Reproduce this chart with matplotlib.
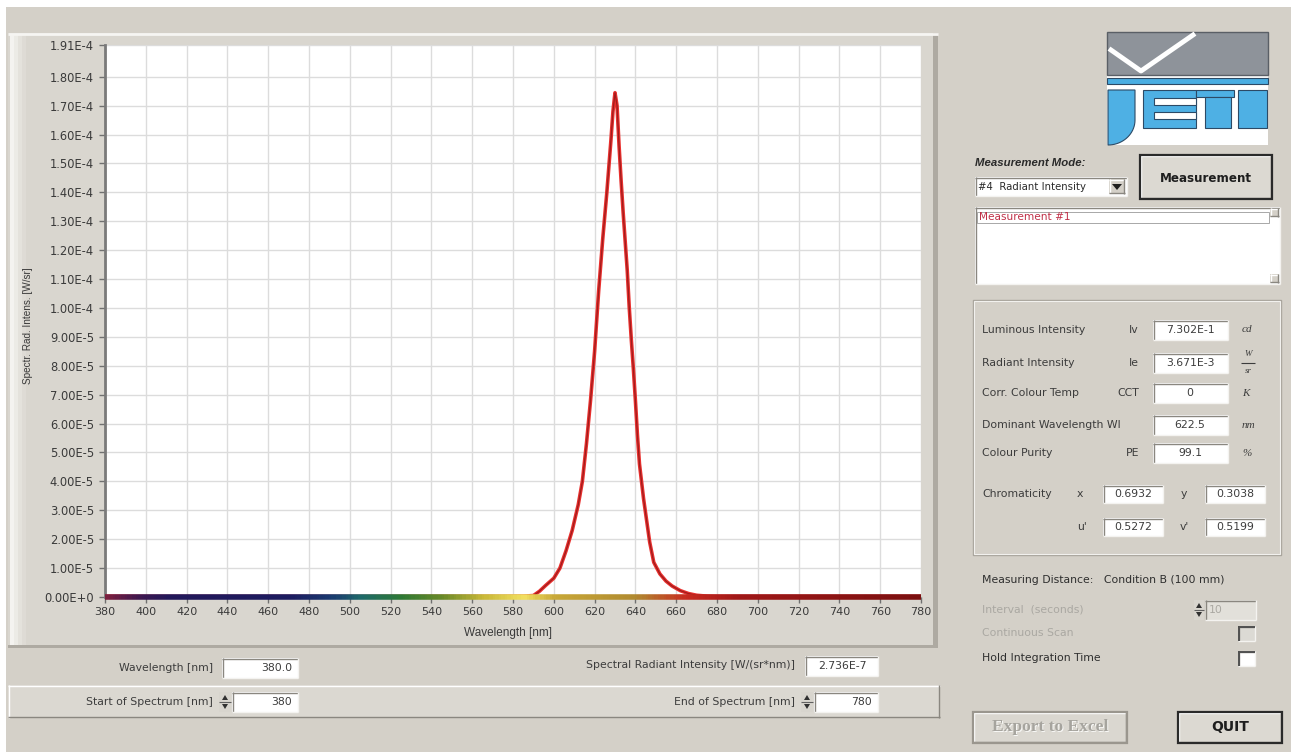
import numpy as np
import matplotlib
matplotlib.use('Agg')
import matplotlib.pyplot as plt
from matplotlib.patches import Rectangle, Polygon
from matplotlib.collections import LineCollection
from matplotlib.colors import LinearSegmentedColormap

# ---------------- data ----------------
wavelength_nm = [380, 400, 420, 440, 460, 480, 500, 520, 540, 560, 575, 585, 590, 593, 596,
                 600, 603, 606, 609, 612, 614, 616, 618, 620, 622, 624, 626, 628, 629, 630,
                 631, 632, 633, 634, 635, 636, 637, 638, 639, 640, 641, 642, 643, 644, 645,
                 647, 649, 652, 655, 658, 662, 666, 670, 675, 680, 700, 720, 740, 760, 780]
intensity_e5 = [0.027, 0.02, 0.02, 0.02, 0.02, 0.02, 0.02, 0.02, 0.02, 0.02, 0.02, 0.03, 0.05, 0.2, 0.4,
                0.65, 1.0, 1.6, 2.3, 3.2, 4.0, 5.3, 6.8, 8.5, 10.6, 12.4, 14.0, 15.8, 16.8, 17.45,
                17.0, 15.6, 14.4, 13.3, 12.3, 11.3, 10.0, 8.9, 7.9, 6.8, 5.6, 4.6, 4.0, 3.4, 2.9,
                1.9, 1.2, 0.8, 0.55, 0.38, 0.22, 0.12, 0.06, 0.03, 0.02, 0.02, 0.02, 0.02, 0.02, 0.02]
intensity = [v * 1e-5 for v in intensity_e5]

x_ticks = list(range(380, 781, 20))
y_ticks = [0.0, 1e-5, 2e-5, 3e-5, 4e-5, 5e-5, 6e-5, 7e-5, 8e-5, 9e-5, 1.0e-4, 1.1e-4,
           1.2e-4, 1.3e-4, 1.4e-4, 1.5e-4, 1.6e-4, 1.7e-4, 1.8e-4, 1.91e-4]
y_tick_labels = ['0.00E+0', '1.00E-5', '2.00E-5', '3.00E-5', '4.00E-5', '5.00E-5', '6.00E-5',
                 '7.00E-5', '8.00E-5', '9.00E-5', '1.00E-4', '1.10E-4', '1.20E-4', '1.30E-4',
                 '1.40E-4', '1.50E-4', '1.60E-4', '1.70E-4', '1.80E-4', '1.91E-4']

result_labels = ['Luminous Intensity', 'Radiant Intensity', 'Corr. Colour Temp',
                 'Dominant Wavelength Wl', 'Colour Purity']
result_symbols = ['Iv', 'Ie', 'CCT', '', 'PE']
result_values = ['7.302E-1', '3.671E-3', '0', '622.5', '99.1']
result_units = ['cd', 'W/sr', 'K', 'nm', '%']
chroma_labels = ['x', 'y', "u'", "v'"]
chroma_values = ['0.6932', '0.3038', '0.5272', '0.5199']

cursor_wavelength = '380.0'
cursor_intensity = '2.736E-7'
start_spectrum = '380'
end_spectrum = '780'

# ---------------- figure ----------------
W, H = 1291, 752
fig = plt.figure(figsize=(W / 100, H / 100), dpi=100, facecolor='white')
bg = fig.add_axes([0, 0, 1, 1], zorder=0)
bg.set_xlim(0, W)
bg.set_ylim(H, 0)
bg.axis('off')

SANS = 'DejaVu Sans'
GRAY = '#d4d0c8'
TXT = '#3c3c3c'
FS = 7.8


def rect(x0, y0, x1, y1, fc, ec='none', lw=0, z=1):
    bg.add_patch(Rectangle((x0, y0), x1 - x0, y1 - y0, facecolor=fc, edgecolor=ec, lw=lw, zorder=z))


def hline(x0, x1, y, c, lw=1, z=2):
    bg.plot([x0, x1], [y, y], color=c, lw=lw, zorder=z, solid_capstyle='butt')


def vline(x, y0, y1, c, lw=1, z=2):
    bg.plot([x, x], [y0, y1], color=c, lw=lw, zorder=z, solid_capstyle='butt')


def sunken(x0, y0, x1, y1, fc='white'):
    rect(x0, y0, x1, y1, fc)
    hline(x0, x1, y0 + 0.5, '#8a8780')
    vline(x0 + 0.5, y0, y1, '#8a8780')
    hline(x0, x1, y1 - 0.5, '#f4f3f0')
    vline(x1 - 0.5, y0, y1, '#f4f3f0')


def raised(x0, y0, x1, y1, fc=GRAY, dark='#8a8780', outer=None):
    rect(x0, y0, x1, y1, fc)
    hline(x0, x1, y0 + 1, '#ffffff')
    vline(x0 + 1, y0, y1, '#ffffff')
    hline(x0, x1, y1 - 1, dark)
    vline(x1 - 1, y0, y1, dark)
    if outer:
        bg.add_patch(Rectangle((x0, y0), x1 - x0, y1 - y0, facecolor='none',
                               edgecolor=outer, lw=1.6, zorder=3))


def spinner(x0, y0, x1, y1):
    rect(x0, y0, x1, y1, '#d8d5ce')
    ym = (y0 + y1) / 2
    cx = (x0 + x1) / 2
    bg.add_patch(Polygon([(cx - 3, ym - 2), (cx + 3, ym - 2), (cx, ym - 7)], closed=True,
                         facecolor='#303030', zorder=3))
    bg.add_patch(Polygon([(cx - 3, ym + 2), (cx + 3, ym + 2), (cx, ym + 7)], closed=True,
                         facecolor='#303030', zorder=3))
    hline(x0, x1, ym, '#606060', lw=0.8)


def txt(x, y, s, size=FS, color=TXT, ha='left', family=SANS, **kw):
    return bg.text(x, y, s, fontsize=size, color=color, ha=ha, va='center', family=family,
                   zorder=5, **kw)


# window background
rect(6, 7, W, H, GRAY, z=0.5)

# chart panel
rect(8, 33, 938, 648, '#d9d6cf')
for i, c in enumerate(['#f4f3f0', '#ecebe6', '#e4e2dc', '#dedbd5']):
    rect(10 + i * 4, 35, 14 + i * 4, 645, c)
hline(8, 938, 34, '#f6f5f2', lw=2)
rect(933, 33, 938, 648, '#aeaaa2')
rect(8, 645, 938, 648, '#aeaaa2')

# ---------------- spectrum axes ----------------
ax = fig.add_axes([105 / W, 1 - 597 / H, 816 / W, 552 / H], zorder=2)
ax.set_facecolor('white')
ax.set_xlim(380, 780)
ax.set_ylim(0, 1.91e-4)
ax.set_xticks(x_ticks)
ax.set_xticklabels([str(t) for t in x_ticks])
ax.set_yticks(y_ticks)
ax.set_yticklabels(y_tick_labels)
ax.grid(True, color='#dcdcdc', lw=1)
ax.set_axisbelow(True)
for s in ['top', 'right']:
    ax.spines[s].set_visible(False)
ax.spines['left'].set_color('#7a7a7a')
ax.spines['left'].set_linewidth(2)
ax.spines['bottom'].set_color('#9a9a9a')
ax.tick_params(axis='both', direction='out', length=4, width=1, color='#707070',
               labelcolor='#3a3a3a')
ax.tick_params(axis='y', labelsize=8.3, pad=4)
ax.tick_params(axis='x', labelsize=8, pad=3)
for lab in ax.get_xticklabels() + ax.get_yticklabels():
    lab.set_family('DejaVu Sans')

# red measured curve
ax.plot(wavelength_nm, intensity, color='#e8302e', lw=2.6, zorder=3, solid_joinstyle='round')
ax.plot(wavelength_nm, intensity, color='#a01c1c', lw=0.9, zorder=3.1, solid_joinstyle='round')

# spectral colour band at the baseline
band_stops = [(380, '#7a2040'), (395, '#40184e'), (410, '#22185a'), (470, '#1c1c60'),
              (490, '#1a3a70'), (505, '#1e6a6a'), (525, '#2e7a34'), (545, '#6a8a28'),
              (565, '#c8b838'), (585, '#f2e060'), (600, '#c8a838'), (640, '#b08a30'),
              (665, '#c82a20'), (690, '#a01818'), (780, '#7a1010')]
cmap = LinearSegmentedColormap.from_list(
    'spec', [((w - 380) / 400, c) for w, c in band_stops])
bx = np.linspace(380, 780, 401)
pts = np.array([bx, np.full_like(bx, 0.0)]).T.reshape(-1, 1, 2)
segs = np.concatenate([pts[:-1], pts[1:]], axis=1)
lc = LineCollection(segs, colors=cmap((bx[:-1] - 380) / 400), linewidths=4, zorder=4,
                    capstyle='butt', clip_on=False)
ax.add_collection(lc)

fig.text(28 / W, 1 - 326 / H, 'Spectr. Rad. Intens. [W/sr]', rotation=90, fontsize=7.2,
         color='#3a3a3a', ha='center', va='center', family='Liberation Sans')
fig.text(508 / W, 1 - 633 / H, 'Wavelength [nm]', fontsize=8.5, color='#3a3a3a',
         ha='center', va='center', family='Liberation Sans')

# ---------------- controls below the chart ----------------
txt(213, 668, 'Wavelength [nm]', ha='right')
sunken(222, 658, 298, 678)
txt(292, 668, cursor_wavelength, ha='right')
txt(795, 665, 'Spectral Radiant Intensity [W/(sr*nm)]', ha='right')
sunken(805, 656, 878, 676)
txt(842, 666, cursor_intensity, ha='center')

raised(8, 685, 940, 718, fc='#dbd8d1')
txt(213, 702, 'Start of Spectrum [nm]', ha='right')
spinner(219, 692, 231, 712)
sunken(232, 692, 298, 712)
txt(292, 702, start_spectrum, ha='right')
txt(795, 702, 'End of Spectrum [nm]', ha='right')
spinner(801, 692, 813, 712)
sunken(814, 692, 878, 712)
txt(872, 702, end_spectrum, ha='right')

# ---------------- logo ----------------
rect(1107, 32, 1268, 145, 'white', z=1)
rect(1107, 32, 1268, 75, '#8e939a', ec='#5a5f66', lw=1, z=2)
bg.plot([1111, 1141, 1193], [50, 71, 35], color='white', lw=3.5, zorder=3)
rect(1107, 78, 1268, 84, '#4aaee2', ec='#2c4a66', lw=0.8, z=2)
blue, dk = '#4eb0e4', '#2c4a66'
jt = np.linspace(0, np.pi / 2, 20)
jpoly = [(1108, 90), (1135, 90), (1135, 120)] + \
        [(1135 - 27 * (1 - np.cos(t)), 120 + 25 * np.sin(t)) for t in jt]
bg.add_patch(Polygon(jpoly, closed=True, facecolor=blue, edgecolor=dk, lw=0.8, zorder=3))
rect(1143, 90, 1196, 128, blue, ec=dk, lw=0.8, z=3)
rect(1154, 98, 1196, 105, 'white', ec=dk, lw=0.8, z=3.1)
rect(1154, 112, 1196, 119, 'white', ec=dk, lw=0.8, z=3.1)
rect(1196, 90, 1234, 97, blue, ec=dk, lw=0.8, z=3)
rect(1205, 97, 1231, 128, blue, ec=dk, lw=0.8, z=3)
rect(1238, 90, 1267, 128, blue, ec=dk, lw=0.8, z=3)

# ---------------- measurement controls ----------------
txt(975, 163, 'Measurement Mode:', size=8.2, color='#2a2a2a', family='Liberation Sans',
    fontweight='bold', fontstyle='italic')
sunken(975, 177, 1127, 196)
txt(978, 186.5, '#4  Radiant Intensity', size=7.3, color='#2a2a2a',
    clip_path=Rectangle((975, 177), 133, 19, transform=bg.transData))
raised(1109, 179, 1125, 194)
bg.add_patch(Polygon([(1112, 184), (1122, 184), (1117, 190)], closed=True,
                     facecolor='#202020', zorder=4))
raised(1140, 155, 1272, 199, fc='#dcd9d2', outer='#2a2a2a')
txt(1206, 178, 'Measurement', size=8.6, color='#1e1e1e', ha='center', fontweight='bold')

sunken(975, 207, 1280, 284)
bg.add_patch(Rectangle((977, 212), 292, 11, facecolor='none', edgecolor='#9a9a9a', lw=0.6, zorder=3))
txt(979, 217.5, 'Measurement #1', size=7.6, color='#c03048')
raised(1270, 208, 1279, 217)
raised(1270, 274, 1279, 283)

# results group box
bg.add_patch(Rectangle((973, 300), 308, 255, facecolor='none', edgecolor='#a8a49c', lw=1, zorder=2))
bg.add_patch(Rectangle((974, 301), 306, 253, facecolor='none', edgecolor='#f2f1ee', lw=0.8, zorder=2))

row_y = [330, 363, 393, 425, 453]
for i, (lab, sym, val, unit) in enumerate(zip(result_labels, result_symbols, result_values, result_units)):
    y = row_y[i]
    txt(982, y, lab)
    if sym:
        txt(1139, y, sym, ha='right')
    sunken(1153, y - 10, 1228, y + 10)
    txt(1190, y, val, ha='center')
    if unit == 'W/sr':
        bg.text(1248, y - 9, 'W', fontsize=6.5, color=TXT, ha='center', va='center',
                family='Liberation Serif', fontstyle='italic', zorder=5)
        hline(1241, 1255, y, TXT, lw=0.8)
        bg.text(1248, y + 8, 'sr', fontsize=6.5, color=TXT, ha='center', va='center',
                family='Liberation Serif', fontstyle='italic', zorder=5)
    else:
        bg.text(1242, y, unit, fontsize=8, color=TXT, ha='left', va='center',
                family='Liberation Serif', fontstyle='italic', zorder=5)

txt(982, 494, 'Chromaticity')
chroma_pos = [(1080, 1103, 494), (1184, 1205, 494), (1082, 1103, 527), (1184, 1205, 527)]
for (lx, bx0, y), lab, val in zip(chroma_pos, chroma_labels, chroma_values):
    txt(lx, y, lab, ha='center')
    sunken(bx0, y - 9, bx0 + 60, y + 9)
    txt(bx0 + 30, y, val, ha='center')

txt(982, 580, 'Measuring Distance:   Condition B (100 mm)', color='#2e2e2e')
txt(982, 610, 'Interval  (seconds)', color='#aaa8a2')
spinner(1194, 600, 1204, 620)
sunken(1205, 600, 1256, 620, fc='#e2e0da')
txt(1209, 610, '10', color='#aaa8a2')
txt(982, 633, 'Continuous Scan', color='#aaa8a2')
sunken(1238, 626, 1255, 641, fc='#dcdad4')
hline(1238, 1255, 626.8, '#505050', lw=1.4)
vline(1238.8, 626, 641, '#505050', lw=1.4)
txt(982, 658, 'Hold Integration Time', color='#2e2e2e')
sunken(1238, 651, 1255, 666, fc='white')
hline(1238, 1255, 651.8, '#505050', lw=1.4)
vline(1238.8, 651, 666, '#505050', lw=1.4)

raised(973, 712, 1127, 743, fc='#dad7d0', outer='#9a968e')
bg.text(1051, 728, 'Export to Excel', fontsize=12.5, color='#f8f8f6', ha='center', va='center',
        family='Liberation Serif', fontweight='bold', zorder=5)
bg.text(1050, 727, 'Export to Excel', fontsize=12.5, color='#a6a49e', ha='center', va='center',
        family='Liberation Serif', fontweight='bold', zorder=5.1)
raised(1178, 712, 1282, 743, fc='#dcd9d2', outer='#2a2a2a')
txt(1230, 727, 'QUIT', size=10, color='#1e1e1e', ha='center', fontweight='bold')

fig.savefig('out.png', dpi=100, facecolor='white')
